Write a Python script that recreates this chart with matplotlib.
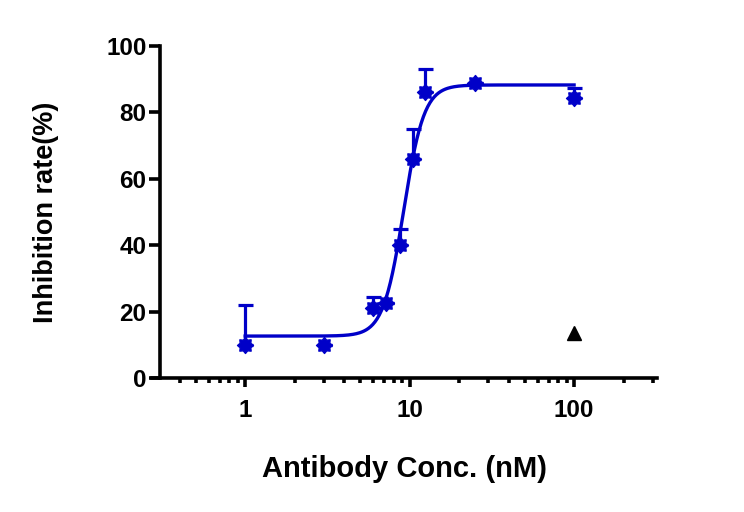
import numpy as np
import matplotlib.pyplot as plt
from matplotlib.path import Path
from matplotlib.ticker import FixedLocator, NullFormatter

plt.rcParams['font.family'] = ['Liberation Sans', 'DejaVu Sans']
plt.rcParams['font.weight'] = 'bold'

# measured points (mean and upper error)
conc = [1, 3, 6, 7.2, 8.7, 10.45, 12.4, 25, 100]
inhib = [10.0, 10.0, 21.0, 22.7, 40.1, 65.9, 86.2, 88.7, 84.2]
err_up = [12.0, 0.0, 3.5, 0.0, 4.8, 9.0, 6.7, 0.0, 3.0]

# lone control point
ctrl_conc = [100]
ctrl_inhib = [13.5]

# 4PL fit parameters
bottom, top, ec50, hill = 12.7, 88.2, 9.2, 7.0

blue = '#0000C8'

fig = plt.figure(figsize=(7.44, 5.12), dpi=100)
ax = fig.add_axes([0.2043, 0.2611, 0.6784, 0.6496])

xfit = np.logspace(0, 2, 300)
yfit = bottom + (top - bottom) / (1 + (ec50 / xfit) ** hill)
ax.plot(xfit, yfit, color=blue, lw=2.4, zorder=2)

star = Path.unit_regular_star(8, 0.72)
ax.errorbar(conc, inhib, yerr=[np.zeros(len(err_up)), err_up], fmt='none',
            ecolor=blue, elinewidth=2.3, capsize=5.4, capthick=2.3, zorder=3)
ax.plot(conc, inhib, ls='none', marker=star, ms=11.5, color=blue, zorder=4)
ax.plot(ctrl_conc, ctrl_inhib, ls='none', marker='^', ms=10, color='black', zorder=4)

ax.set_xscale('log')
ax.set_xlim(0.2714, 318)
ax.set_ylim(0, 100)

ax.spines['top'].set_visible(False)
ax.spines['right'].set_visible(False)
ax.spines['left'].set_position(('data', 0.305))
for s in ['left', 'bottom']:
    ax.spines[s].set_linewidth(2.6)

ax.xaxis.set_major_locator(FixedLocator([1, 10, 100]))
minors = [m * d for d in [0.1, 1, 10, 100] for m in range(2, 10)]
minors = [v for v in minors if 0.35 < v < 310]
ax.xaxis.set_minor_locator(FixedLocator(minors))
ax.xaxis.set_minor_formatter(NullFormatter())
ax.set_xticklabels(['1', '10', '100'])
ax.set_yticks([0, 20, 40, 60, 80, 100])

ax.tick_params(axis='x', which='major', length=6.5, width=2.6, labelsize=17.5, pad=8.5)
ax.tick_params(axis='x', which='minor', length=3.5, width=2.6)
ax.tick_params(axis='y', which='major', length=8, width=2.6, labelsize=17.5, pad=2)

ax.set_xlabel('Antibody Conc. (nM)', fontsize=21, fontweight='bold', labelpad=24)
ax.set_ylabel('Inhibition rate(%)', fontsize=19.5, fontweight='bold', labelpad=34)

fig.savefig('out.png', dpi=100)
